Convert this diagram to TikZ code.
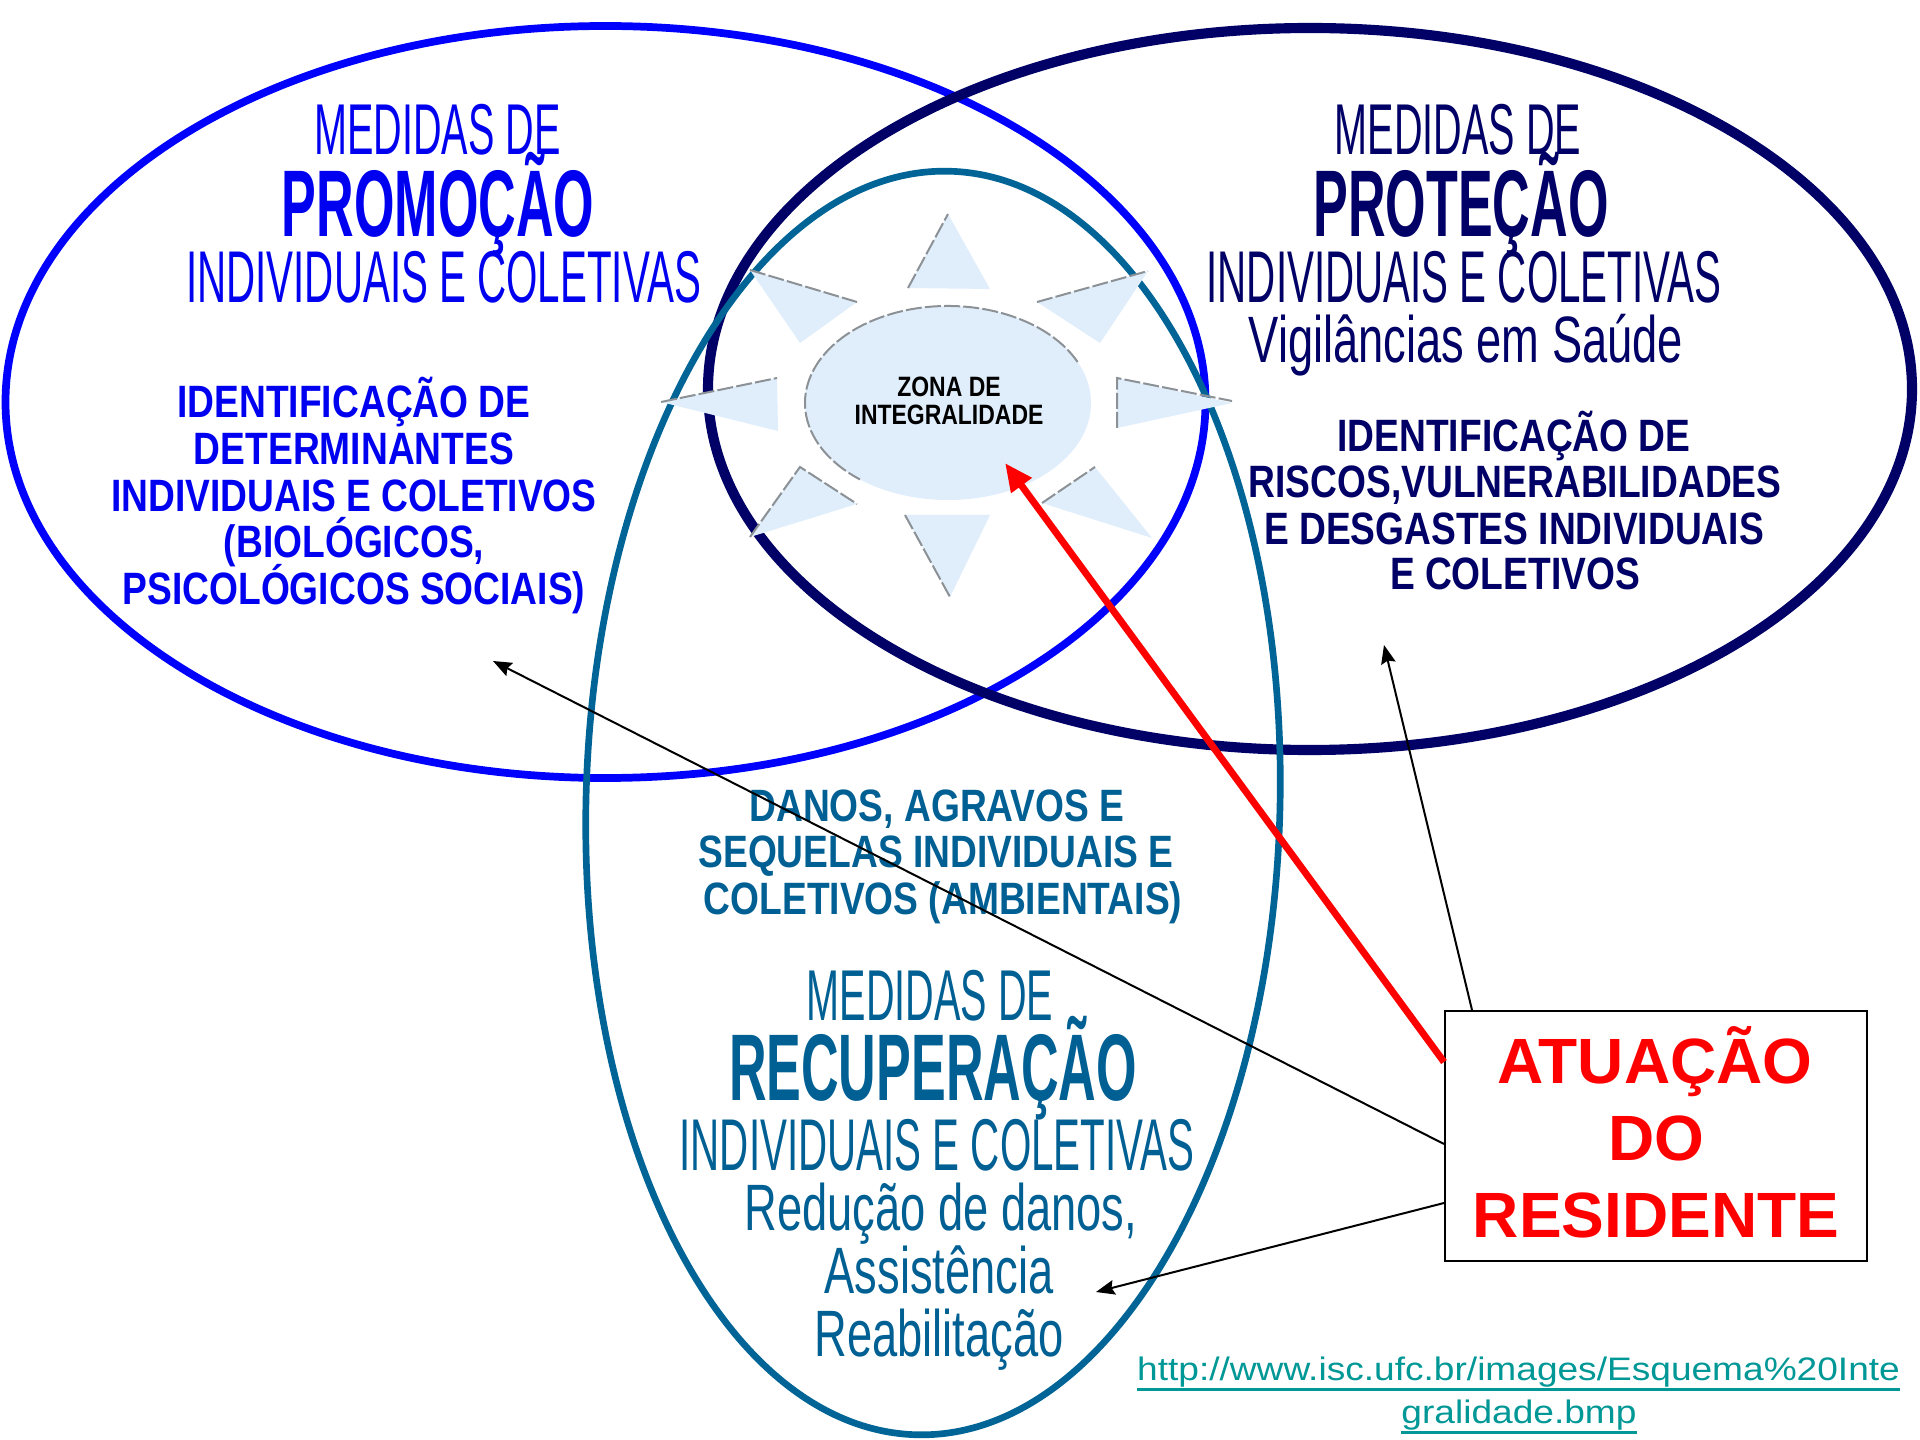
\documentclass[tikz,border=0pt]{standalone}
\usepackage{fontspec}
\setmainfont{Liberation Sans}
\newfontfamily\condA[FakeStretch=0.55]{Liberation Sans}
\newfontfamily\condL[FakeStretch=0.69]{Liberation Sans}
\newfontfamily\condM[FakeStretch=0.82]{Liberation Sans}
\newfontfamily\urlf[FakeStretch=1.14]{Liberation Sans}
\usetikzlibrary{arrows.meta}
\definecolor{promo}{RGB}{0,0,255}
\definecolor{promotxt}{RGB}{0,0,240}
\definecolor{prot}{RGB}{0,0,102}
\definecolor{recu}{RGB}{0,100,150}
\definecolor{recutxt}{RGB}{0,96,148}
\definecolor{sunfill}{RGB}{224,238,252}
\definecolor{sungray}{RGB}{140,145,150}
\definecolor{urlc}{RGB}{0,152,150}
\definecolor{resred}{RGB}{255,0,0}
\newcommand\myul[1]{\setbox0\hbox{#1}\rlap{\rule[-4.1pt]{\wd0}{1.1pt}}\box0}
\begin{document}
\begin{tikzpicture}[x=0.375pt,y=-0.375pt,
  every node/.style={inner sep=0pt},
  medidas/.style={anchor=base,text height=19.5pt,text depth=0pt,font=\condA\fontsize{27}{27}\selectfont},
  indiv/.style={anchor=base,text height=19.7pt,text depth=0pt,font=\condA\fontsize{27.5}{27.5}\selectfont},
  bigword/.style={anchor=base,text height=25.5pt,text depth=0pt,font=\condA\bfseries\fontsize{35.5}{35.5}\selectfont},
  lowline/.style={anchor=base,text height=18pt,text depth=5pt,font=\condL\fontsize{24.6}{24.6}\selectfont},
  smallb/.style={anchor=base,text height=12.3pt,text depth=0pt,font=\condM\bfseries\fontsize{17}{17}\selectfont},
  zona/.style={anchor=base,text height=7.6pt,text depth=0pt,font=\condM\bfseries\fontsize{10.5}{10.5}\selectfont},
  resid/.style={anchor=base,text height=17.3pt,text depth=0pt,font=\bfseries\fontsize{24}{24}\selectfont,text=resred},
  urltxt/.style={anchor=base,text height=9pt,text depth=2.6pt,font=\urlf\fontsize{12.2}{12.2}\selectfont,text=urlc},
  spikefill/.style={fill=sunfill},
  spikeedge/.style={draw=sungray,line width=0.75pt,dash pattern=on 6pt off 1.2pt},
  blackarrow/.style={draw=black,line width=0.75pt,-{Stealth[length=7pt,width=5.5pt,inset=1pt]}},
]
\useasboundingbox[fill=white] (0,0) rectangle (1920,1440);

% ---- ellipses ----
\draw[promo, line width=2.9pt] (605.5,402) ellipse [x radius=600, y radius=376];
\draw[prot, line width=3.8pt] (1310,389) ellipse [x radius=602, y radius=361];
\draw[recu, line width=2.5pt, rotate around={-1.5:(933,803)}] (933,803) ellipse [x radius=347, y radius=632];

% ---- sun ----
\fill[sunfill] (948,403) ellipse [x radius=143, y radius=97];
\draw[spikeedge] (948,403) ++(-25:143 and 97) arc [start angle=-25, end angle=-232, x radius=143, y radius=97];
% top
\fill[spikefill] (948,214) -- (908,288) -- (990,289) -- cycle;
\draw[spikeedge] (908,288) -- (948,214);
% top-left
\fill[spikefill] (750,270) -- (857,302) -- (800,343) -- cycle;
\draw[spikeedge] (750,270) -- (857,302);
% top-right
\fill[spikefill] (1148,271) -- (1037,302) -- (1100,343) -- cycle;
\draw[spikeedge] (1037,302) -- (1148,271);
% left
\fill[spikefill] (661,402) -- (777,378) -- (778,431) -- cycle;
\draw[spikeedge] (661,402) -- (777,378);
% right
\fill[spikefill] (1232,403) -- (1117,378) -- (1117,428) -- cycle;
\draw[spikeedge] (1117,428) -- (1117,378) -- (1232,401);
% bottom-right
\fill[spikefill] (1152,538) -- (1095,467) -- (1042,503) -- cycle;
\draw[spikeedge] (1042,503) -- (1095,467);
% bottom
\fill[spikefill] (950,597) -- (905,515) -- (990,515) -- cycle;
\draw[spikeedge] (905,515) -- (950,597);
% bottom-left
\fill[spikefill] (750,537) -- (800,467) -- (857,504) -- cycle;
\draw[spikeedge] (750,537) -- (800,467) -- (857,504);

\node[zona] (z1) at (949,397) {ZONA DE};
\node[zona] (z2) at (949,425) {INTEGRALIDADE};

% ---- left ellipse texts ----
\begin{scope}[every node/.append style={text=promotxt}]
\node[medidas] (l1) at (437.5,155) {MEDIDAS DE};
\node[bigword] (l2) at (438,237) {PROMOÇÃO};
\node[indiv] (l3) at (443.5,303) {INDIVIDUAIS E COLETIVAS};
\node[smallb] (l4) at (354,418) {IDENTIFICAÇÃO DE};
\node[smallb] (l5) at (354,465) {DETERMINANTES};
\node[smallb] (l6) at (354,512) {INDIVIDUAIS E COLETIVOS};
\node[smallb] (l7) at (354,558) {(BIOLÓGICOS,};
\node[smallb] (l8) at (354,605) {PSICOLÓGICOS SOCIAIS)};
\end{scope}

% ---- right ellipse texts ----
\begin{scope}[every node/.append style={text=prot}]
\node[medidas] (r1) at (1458,155) {MEDIDAS DE};
\node[bigword] (r2) at (1461,237) {PROTEÇÃO};
\node[indiv] (r3) at (1464,303) {INDIVIDUAIS E COLETIVAS};
\node[lowline] (r4) at (1466,363) {Vigilâncias em Saúde};
\node[smallb] (r5) at (1514,452) {IDENTIFICAÇÃO DE};
\node[smallb] (r6) at (1515,498) {RISCOS,VULNERABILIDADES};
\node[smallb] (r7) at (1514,545) {E DESGASTES INDIVIDUAIS};
\node[smallb] (r8) at (1515,590) {E COLETIVOS};
\end{scope}

% ---- bottom ellipse texts ----
\begin{scope}[every node/.append style={text=recutxt}]
\node[smallb] (b1) at (937,821) {DANOS, AGRAVOS E};
\node[smallb] (b2) at (936,867) {SEQUELAS INDIVIDUAIS E};
\node[smallb] (b3) at (943,914) {COLETIVOS (AMBIENTAIS)};
\node[medidas] (b4) at (930,1020) {MEDIDAS DE};
\node[bigword] (b5) at (933,1100) {RECUPERAÇÃO};
\node[indiv] (b6) at (937,1170) {INDIVIDUAIS E COLETIVAS};
\node[lowline] (b7) at (941,1230) {Redução de danos,};
\node[lowline] (b8) at (939,1293) {Assistência};
\node[lowline] (b9) at (939,1356) {Reabilitação};
\end{scope}

% ---- box ----
\node[draw=black, line width=0.75pt, minimum width=158.25pt, minimum height=93.75pt] (box) at (1656,1136) {};
\node[resid] (a1) at (1655,1083) {ATUAÇÃO};
\node[resid] (a2) at (1656,1160) {DO};
\node[resid] (a3) at (1656,1237) {RESIDENTE};

% ---- arrows ----
\coordinate (tipR) at (1005,463);
\coordinate (tipP) at (493,661);
\coordinate (tipQ) at (1384,645);
\coordinate (tipB) at (1096,1292);
\draw[resred, line width=2.6pt, -{Triangle[length=10.5pt,width=9pt]}] ([shift={(0,52)}]box.north west) -- (tipR);
\draw[blackarrow] ([shift={(0,134)}]box.north west) -- (tipP);
\draw[blackarrow] ([shift={(28,0)}]box.north west) -- (tipQ);
\draw[blackarrow] ([shift={(0,193)}]box.north west) -- (tipB);

% ---- url ----
\node[urltxt] (u1) at (1518.5,1380) {\myul{http://www.isc.ufc.br/images/Esquema\%20Inte}};
\node[urltxt] (u2) at (1519,1423) {\myul{gralidade.bmp}};
\end{tikzpicture}
\end{document}
